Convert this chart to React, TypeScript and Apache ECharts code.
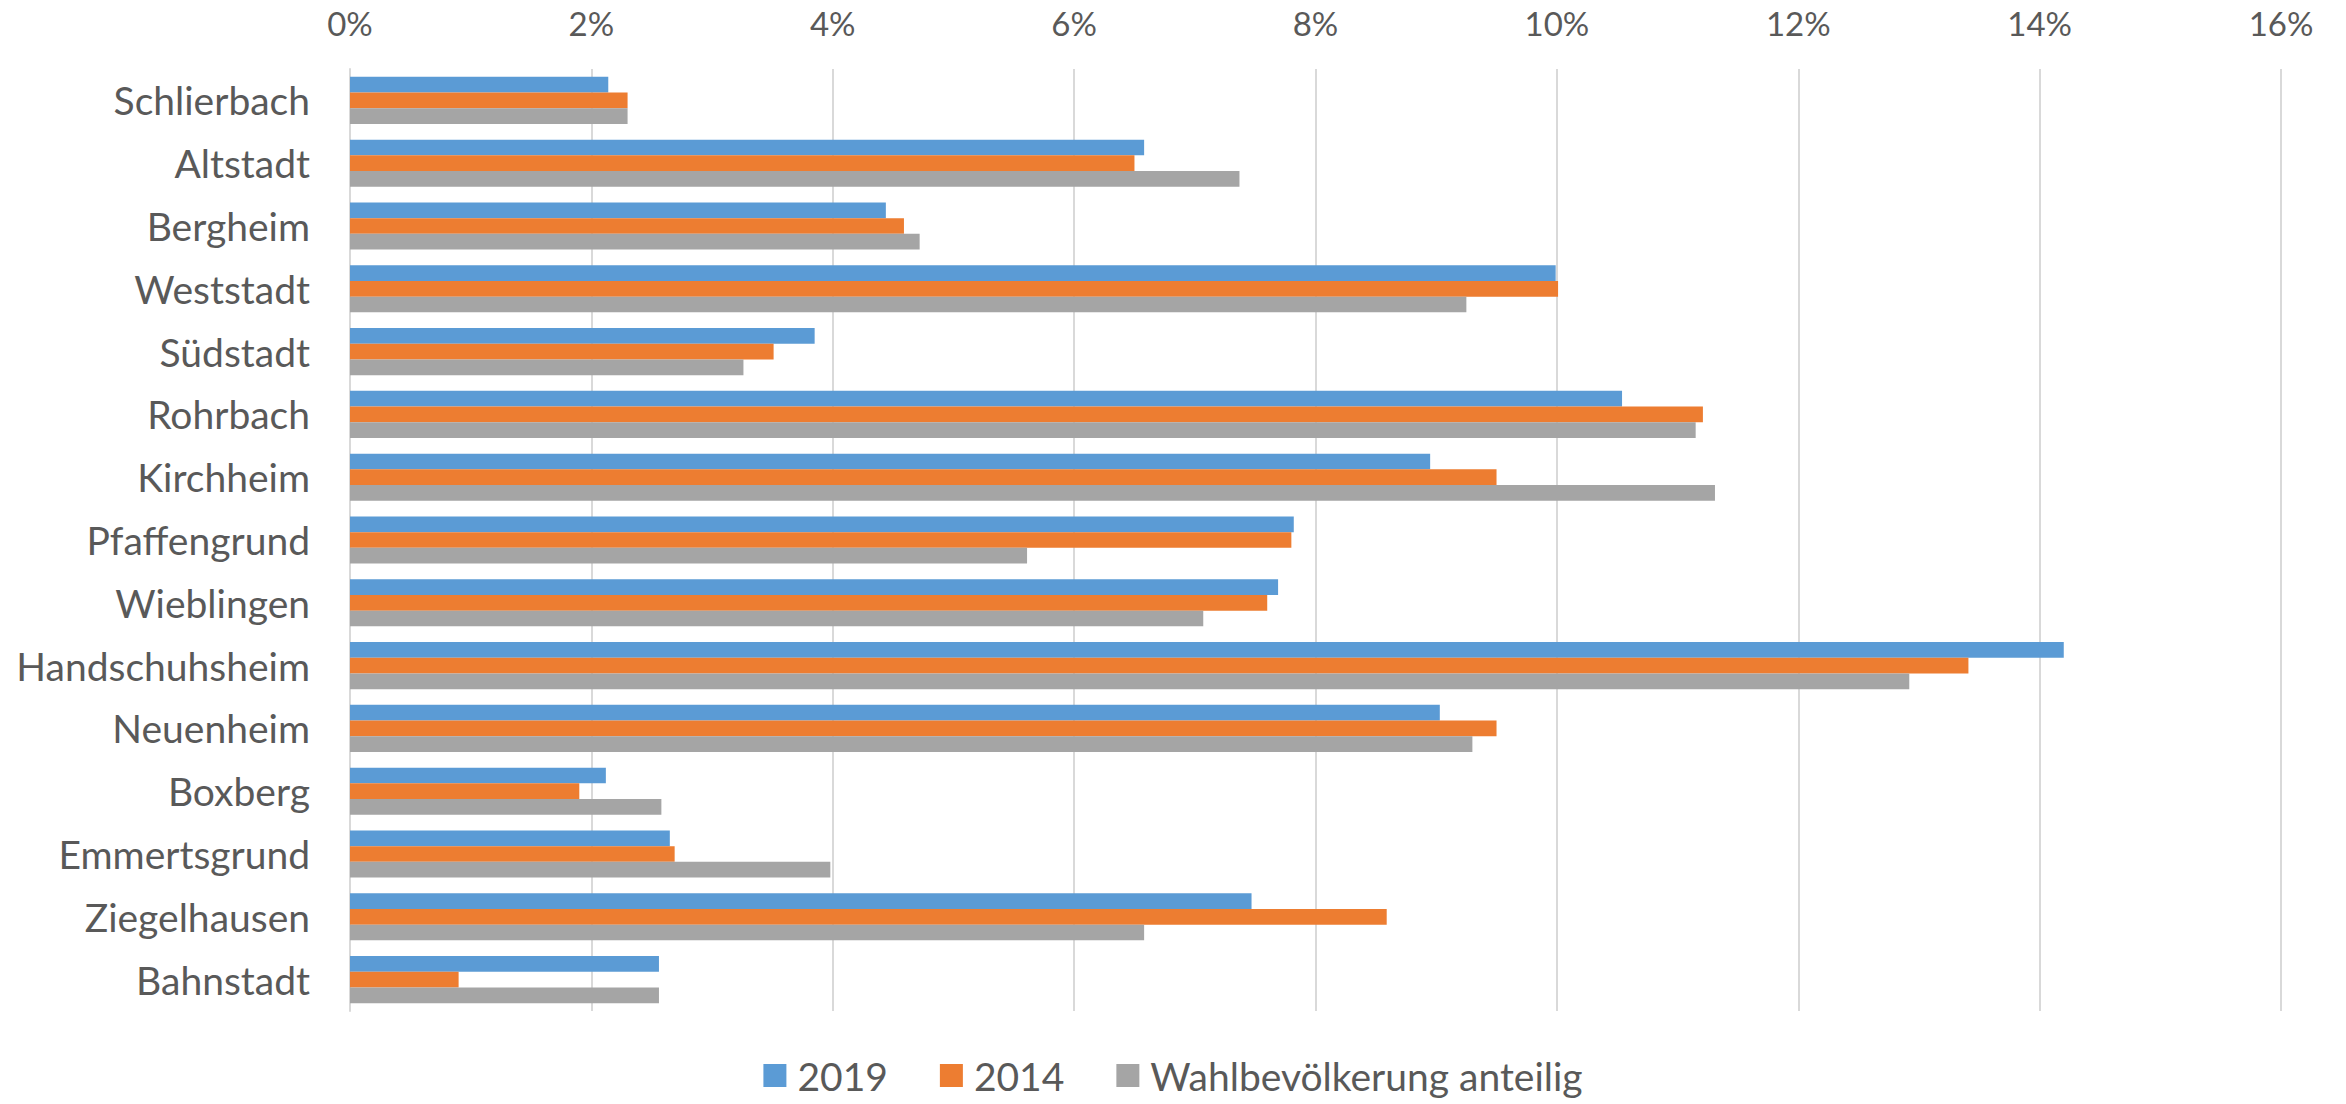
import React, { useEffect, useRef } from "react";
import * as echarts from "echarts";

const categories = [
  "Schlierbach",
  "Altstadt",
  "Bergheim",
  "Weststadt",
  "Südstadt",
  "Rohrbach",
  "Kirchheim",
  "Pfaffengrund",
  "Wieblingen",
  "Handschuhsheim",
  "Neuenheim",
  "Boxberg",
  "Emmertsgrund",
  "Ziegelhausen",
  "Bahnstadt",
];

const seriesNames = ["2019", "2014", "Wahlbevölkerung anteilig"];

const values2019 = [2.14, 6.58, 4.44, 9.99, 3.85, 10.54, 8.95, 7.82, 7.69, 14.2, 9.03, 2.12, 2.65, 7.47, 2.56];
const values2014 = [2.3, 6.5, 4.59, 10.01, 3.51, 11.21, 9.5, 7.8, 7.6, 13.41, 9.5, 1.9, 2.69, 8.59, 0.9];
const valuesPop = [2.3, 7.37, 4.72, 9.25, 3.26, 11.15, 11.31, 5.61, 7.07, 12.92, 9.3, 2.58, 3.98, 6.58, 2.56];

const axisMin = 0;
const axisMax = 16;
const axisInterval = 2;

const colors = ["#5B9BD5", "#ED7D31", "#A5A5A5"];
const FONT = "Lato, 'Noto Sans', sans-serif";

export default function App() {
  const ref = useRef<HTMLDivElement>(null);

  useEffect(() => {
    if (!ref.current) return;
    const chart = echarts.init(ref.current, undefined, { renderer: "svg" });
    const data = [values2019, values2014, valuesPop];
    chart.setOption({
      animation: false,
      backgroundColor: "#ffffff",
      color: colors,
      grid: { left: 350, right: 65, top: 69, bottom: 93, containLabel: false },
      legend: {
        bottom: 4,
        left: "center",
        itemWidth: 23,
        itemHeight: 23,
        itemGap: 52,
        icon: "rect",
        textStyle: { fontFamily: FONT, fontSize: 39, color: "#595959", padding: [0, 0, 0, 6] },
        data: seriesNames,
      },
      xAxis: {
        type: "value",
        position: "top",
        min: axisMin,
        max: axisMax,
        interval: axisInterval,
        axisLine: { show: false },
        axisTick: { show: false },
        axisLabel: {
          formatter: "{value}%",
          fontFamily: FONT,
          fontSize: 33,
          color: "#595959",
          margin: 30,
        },
        splitLine: { show: true, lineStyle: { color: "#D9D9D9", width: 2 } },
      },
      yAxis: {
        type: "category",
        inverse: true,
        data: categories,
        axisLine: { show: true, lineStyle: { color: "#D9D9D9", width: 2 } },
        axisTick: { show: false },
        axisLabel: {
          fontFamily: FONT,
          fontSize: 39,
          color: "#595959",
          margin: 40,
        },
      },
      series: seriesNames.map((name, i) => ({
        name,
        type: "bar",
        data: data[i],
        barGap: "0%",
        barCategoryGap: "25%",
        itemStyle: { color: colors[i] },
      })),
    });
    return () => chart.dispose();
  }, []);

  return (
    <div
      ref={ref}
      style={{ position: "fixed", left: 0, top: 0, width: 2346, height: 1104 }}
    />
  );
}
